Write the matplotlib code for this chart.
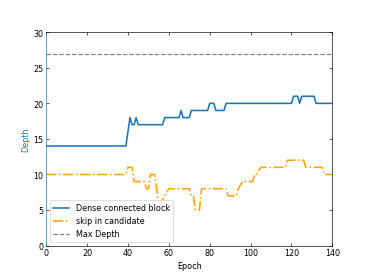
import matplotlib
matplotlib.use("Agg")
import matplotlib.pyplot as plt

# depth of the dense connected block (breakpoints, epoch -> depth)
dense_epoch = [0, 39, 41, 42, 43, 44, 45, 57, 58, 65, 66, 67, 70, 71, 79, 80, 82, 83, 87, 88,
               120, 121, 123, 124, 125, 131, 132, 140]
dense_depth = [14, 14, 18, 17, 17, 18, 17, 17, 18, 18, 19, 18, 18, 19, 19, 20, 20, 19, 19, 20,
               20, 21, 21, 20, 21, 21, 20, 20]

# skip connections in candidate
skip_epoch = [0, 39, 40, 42, 43, 48, 49, 50, 51, 53, 55, 56, 58, 60, 70, 71, 72, 73, 75, 76,
              88, 89, 93, 94, 96, 101, 102, 103, 105, 117, 118, 126, 127, 135, 136, 140]
skip_depth = [10, 10, 11, 11, 9, 9, 8, 8, 10, 10, 6, 6, 7, 8, 8, 7, 7, 5, 5, 8,
              8, 7, 7, 8, 9, 9, 10, 10, 11, 11, 12, 12, 11, 11, 10, 10]

max_depth = 27

fig, ax = plt.subplots(figsize=(6.4, 4.8), dpi=57.7)

ax.plot(dense_epoch, dense_depth, color='tab:blue', linewidth=2, label='Dense connected block')
ax.plot(skip_epoch, skip_depth, color='orange', linestyle='-.', linewidth=2, label='skip in candidate')
ax.axhline(max_depth, color='grey', linestyle='--', label='Max Depth')

ax.set_xlim(0, 140)
ax.set_ylim(0, 30)
ax.set_xlabel('Epoch')
ax.set_ylabel('Depth', color='tab:blue')
ax.spines['left'].set_color('tab:blue')
ax.tick_params(direction='in', top=True, right=True)
# left ticks blue, right ticks stay black
for t in ax.yaxis.get_major_ticks():
    t.tick1line.set_color('tab:blue')
ax.legend(loc='lower left')

fig.savefig('out.png', dpi=57.7)
